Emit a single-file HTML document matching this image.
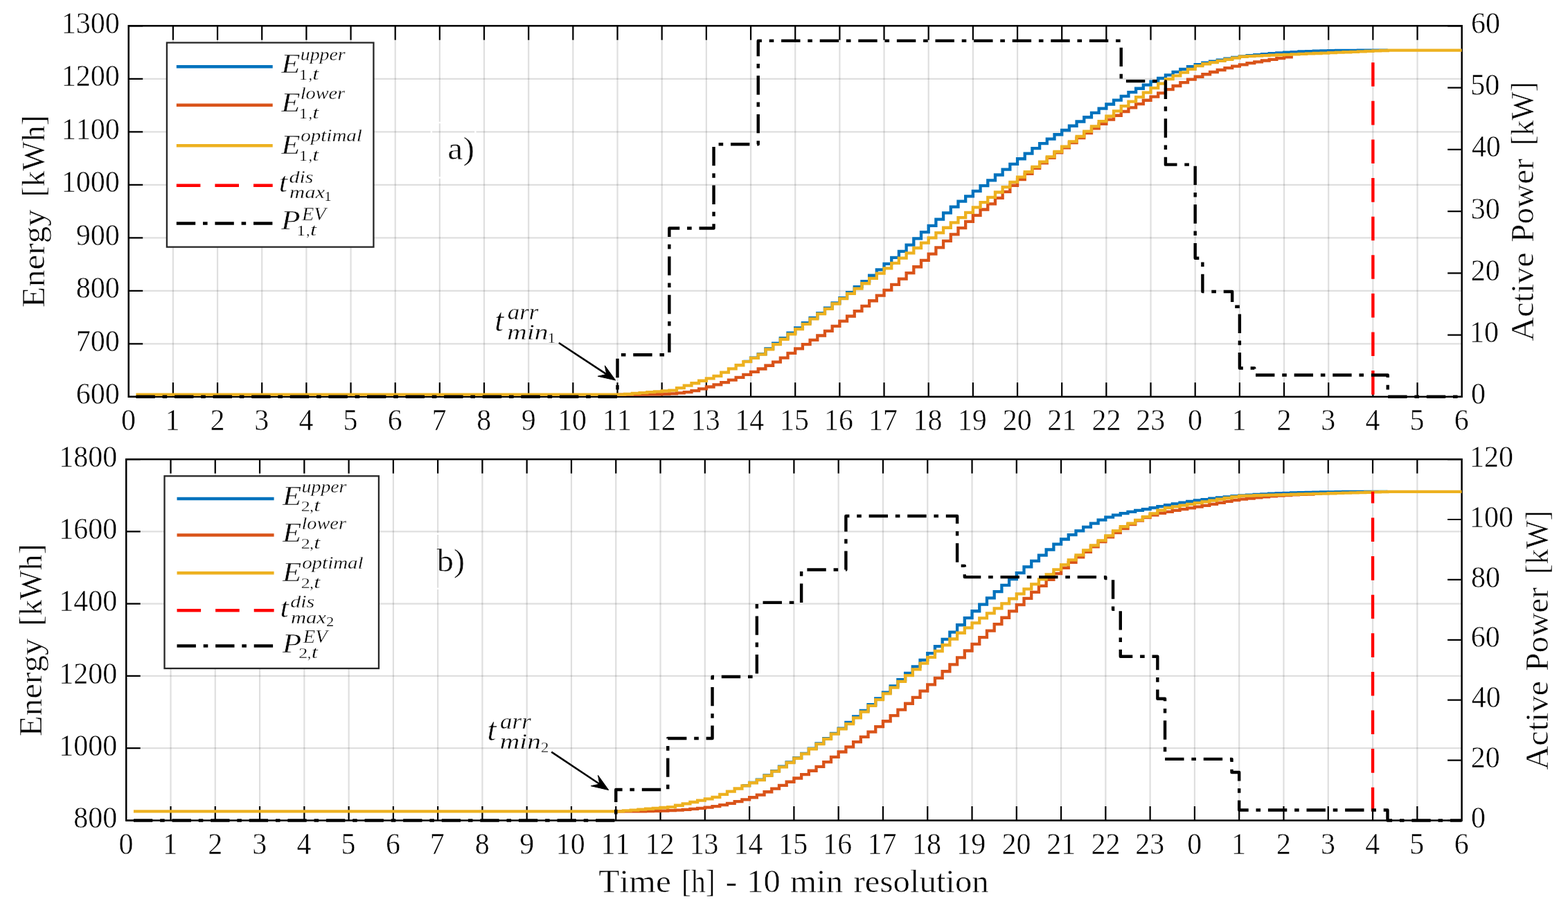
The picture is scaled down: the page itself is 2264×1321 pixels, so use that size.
<!DOCTYPE html>
<html><head><meta charset="utf-8"><title>Energy and active power</title><style>html,body{margin:0;padding:0;background:#fff;overflow:hidden}svg{display:block}text{white-space:pre}</style></head><body>
<svg width="2264" height="1321" viewBox="0 0 2264 1321" font-family="'Liberation Serif', serif" style="font-kerning:none">
<rect width="2264" height="1321" fill="#fff"/>
<path d="M249.87,37.30V572.80" stroke="#262626" stroke-opacity="0.15" stroke-width="2.2" fill="none"/>
<path d="M314.03,37.30V572.80" stroke="#262626" stroke-opacity="0.15" stroke-width="2.2" fill="none"/>
<path d="M378.20,37.30V572.80" stroke="#262626" stroke-opacity="0.15" stroke-width="2.2" fill="none"/>
<path d="M442.37,37.30V572.80" stroke="#262626" stroke-opacity="0.15" stroke-width="2.2" fill="none"/>
<path d="M506.53,37.30V572.80" stroke="#262626" stroke-opacity="0.15" stroke-width="2.2" fill="none"/>
<path d="M570.70,37.30V572.80" stroke="#262626" stroke-opacity="0.15" stroke-width="2.2" fill="none"/>
<path d="M634.87,37.30V572.80" stroke="#262626" stroke-opacity="0.15" stroke-width="2.2" fill="none"/>
<path d="M699.03,37.30V572.80" stroke="#262626" stroke-opacity="0.15" stroke-width="2.2" fill="none"/>
<path d="M763.20,37.30V572.80" stroke="#262626" stroke-opacity="0.15" stroke-width="2.2" fill="none"/>
<path d="M827.37,37.30V572.80" stroke="#262626" stroke-opacity="0.15" stroke-width="2.2" fill="none"/>
<path d="M891.53,37.30V572.80" stroke="#262626" stroke-opacity="0.15" stroke-width="2.2" fill="none"/>
<path d="M955.70,37.30V572.80" stroke="#262626" stroke-opacity="0.15" stroke-width="2.2" fill="none"/>
<path d="M1019.87,37.30V572.80" stroke="#262626" stroke-opacity="0.15" stroke-width="2.2" fill="none"/>
<path d="M1084.03,37.30V572.80" stroke="#262626" stroke-opacity="0.15" stroke-width="2.2" fill="none"/>
<path d="M1148.20,37.30V572.80" stroke="#262626" stroke-opacity="0.15" stroke-width="2.2" fill="none"/>
<path d="M1212.37,37.30V572.80" stroke="#262626" stroke-opacity="0.15" stroke-width="2.2" fill="none"/>
<path d="M1276.53,37.30V572.80" stroke="#262626" stroke-opacity="0.15" stroke-width="2.2" fill="none"/>
<path d="M1340.70,37.30V572.80" stroke="#262626" stroke-opacity="0.15" stroke-width="2.2" fill="none"/>
<path d="M1404.87,37.30V572.80" stroke="#262626" stroke-opacity="0.15" stroke-width="2.2" fill="none"/>
<path d="M1469.03,37.30V572.80" stroke="#262626" stroke-opacity="0.15" stroke-width="2.2" fill="none"/>
<path d="M1533.20,37.30V572.80" stroke="#262626" stroke-opacity="0.15" stroke-width="2.2" fill="none"/>
<path d="M1597.37,37.30V572.80" stroke="#262626" stroke-opacity="0.15" stroke-width="2.2" fill="none"/>
<path d="M1661.53,37.30V572.80" stroke="#262626" stroke-opacity="0.15" stroke-width="2.2" fill="none"/>
<path d="M1725.70,37.30V572.80" stroke="#262626" stroke-opacity="0.15" stroke-width="2.2" fill="none"/>
<path d="M1789.87,37.30V572.80" stroke="#262626" stroke-opacity="0.15" stroke-width="2.2" fill="none"/>
<path d="M1854.03,37.30V572.80" stroke="#262626" stroke-opacity="0.15" stroke-width="2.2" fill="none"/>
<path d="M1918.20,37.30V572.80" stroke="#262626" stroke-opacity="0.15" stroke-width="2.2" fill="none"/>
<path d="M1982.37,37.30V572.80" stroke="#262626" stroke-opacity="0.15" stroke-width="2.2" fill="none"/>
<path d="M2046.53,37.30V572.80" stroke="#262626" stroke-opacity="0.15" stroke-width="2.2" fill="none"/>
<path d="M185.70,496.30H2110.70" stroke="#262626" stroke-opacity="0.15" stroke-width="2.2" fill="none"/>
<path d="M185.70,419.80H2110.70" stroke="#262626" stroke-opacity="0.15" stroke-width="2.2" fill="none"/>
<path d="M185.70,343.30H2110.70" stroke="#262626" stroke-opacity="0.15" stroke-width="2.2" fill="none"/>
<path d="M185.70,266.80H2110.70" stroke="#262626" stroke-opacity="0.15" stroke-width="2.2" fill="none"/>
<path d="M185.70,190.30H2110.70" stroke="#262626" stroke-opacity="0.15" stroke-width="2.2" fill="none"/>
<path d="M185.70,113.80H2110.70" stroke="#262626" stroke-opacity="0.15" stroke-width="2.2" fill="none"/>
<path d="M249.87,572.80v-20.5M249.87,37.30v20.5M314.03,572.80v-20.5M314.03,37.30v20.5M378.20,572.80v-20.5M378.20,37.30v20.5M442.37,572.80v-20.5M442.37,37.30v20.5M506.53,572.80v-20.5M506.53,37.30v20.5M570.70,572.80v-20.5M570.70,37.30v20.5M634.87,572.80v-20.5M634.87,37.30v20.5M699.03,572.80v-20.5M699.03,37.30v20.5M763.20,572.80v-20.5M763.20,37.30v20.5M827.37,572.80v-20.5M827.37,37.30v20.5M891.53,572.80v-20.5M891.53,37.30v20.5M955.70,572.80v-20.5M955.70,37.30v20.5M1019.87,572.80v-20.5M1019.87,37.30v20.5M1084.03,572.80v-20.5M1084.03,37.30v20.5M1148.20,572.80v-20.5M1148.20,37.30v20.5M1212.37,572.80v-20.5M1212.37,37.30v20.5M1276.53,572.80v-20.5M1276.53,37.30v20.5M1340.70,572.80v-20.5M1340.70,37.30v20.5M1404.87,572.80v-20.5M1404.87,37.30v20.5M1469.03,572.80v-20.5M1469.03,37.30v20.5M1533.20,572.80v-20.5M1533.20,37.30v20.5M1597.37,572.80v-20.5M1597.37,37.30v20.5M1661.53,572.80v-20.5M1661.53,37.30v20.5M1725.70,572.80v-20.5M1725.70,37.30v20.5M1789.87,572.80v-20.5M1789.87,37.30v20.5M1854.03,572.80v-20.5M1854.03,37.30v20.5M1918.20,572.80v-20.5M1918.20,37.30v20.5M1982.37,572.80v-20.5M1982.37,37.30v20.5M2046.53,572.80v-20.5M2046.53,37.30v20.5M185.70,572.80h20.5M185.70,496.30h20.5M185.70,419.80h20.5M185.70,343.30h20.5M185.70,266.80h20.5M185.70,190.30h20.5M185.70,113.80h20.5M185.70,37.30h20.5M2110.70,572.80h-20.5M2110.70,483.55h-20.5M2110.70,394.30h-20.5M2110.70,305.05h-20.5M2110.70,215.80h-20.5M2110.70,126.55h-20.5M2110.70,37.30h-20.5" stroke="#000" stroke-width="2.2" fill="none"/>
<rect x="185.70" y="37.30" width="1925.00" height="535.50" stroke="#000" stroke-width="2.5" fill="none"/>
<path d="M1073.34,521.86H1084.03V516.58H1094.73V511.06H1105.42V503.41H1116.12V495.77H1126.81V488.12H1137.51V480.72H1148.20V473.38H1158.89V466.03H1169.59V459.02H1180.28V452.08H1190.98V444.71H1201.67V437.34H1212.37V430.13H1223.06V422.14H1233.76V414.15H1244.45V406.03H1255.14V397.77H1265.84V389.38H1276.53V380.78H1287.23V371.93H1297.92V362.87H1308.62V353.67H1319.31V344.40H1330.01V335.13H1340.70V325.93H1351.39V316.61H1362.09V307.29H1372.78V298.55H1383.48V290.70H1394.17V283.34H1404.87V275.90H1415.56V268.18H1426.26V260.36H1436.95V252.49H1447.64V244.64H1458.34V236.87H1469.03V229.24H1479.73V221.67H1490.42V214.22H1501.12V207.13H1511.81V200.54H1522.51V194.25H1533.20V188.00H1543.89V181.73H1554.59V175.50H1565.28V169.26H1575.98V162.93H1586.67V156.60H1597.37V150.52H1608.06V144.66H1618.76V138.87H1629.45V133.22H1640.14V127.76H1650.84V122.57H1661.53V117.70H1672.23V113.01H1682.92V108.39H1693.62V103.97H1704.31V99.87H1715.01V96.22H1725.70V93.14H1736.39V90.67H1747.09V88.58H1757.78V86.64H1768.48V84.74H1779.17V82.96H1789.87V81.44H1800.56V80.20H1811.26V79.13H1821.95V78.15H1832.64V77.20H1843.34V76.33H1854.03V75.63H1864.73V75.06H1875.42V74.52H1886.12V74.04H1896.81V73.63H1907.51V73.31H1918.20V73.10H1928.89V72.97H1939.59V72.87H1950.28V72.79H1960.98V72.72H1971.67V72.65H1982.37V72.57H1993.06H2003.76" stroke="#0072BD" stroke-width="4.3" fill="none" stroke-linejoin="miter"/>
<path d="M891.53,569.66H902.23H912.92H923.62H934.31V569.47H945.01V569.27H955.70V568.97H966.39V568.37H977.09V567.36H987.78V566.07H998.48V564.13H1009.17V561.44H1019.87V558.49H1030.56V555.45H1041.26V552.15H1051.95V548.61H1062.64V544.87H1073.34V540.94H1084.03V536.84H1094.73V532.50H1105.42V527.75H1116.12V522.54H1126.81V516.54H1137.51V509.92H1148.20V503.34H1158.89V497.11H1169.59V490.92H1180.28V484.52H1190.98V477.79H1201.67V470.83H1212.37V463.71H1223.06V456.50H1233.76V449.19H1244.45V441.78H1255.14V434.26H1265.84V426.60H1276.53V418.81H1287.23V410.85H1297.92V402.66H1308.62V394.17H1319.31V385.23H1330.01V375.95H1340.70V366.63H1351.39V357.31H1362.09V347.88H1372.78V338.42H1383.48V329.04H1394.17V319.85H1404.87V310.94H1415.56V302.49H1426.26V294.31H1436.95V285.92H1447.64V276.95H1458.34V267.76H1469.03V259.00H1479.73V250.83H1490.42V242.93H1501.12V235.26H1511.81V227.78H1522.51V220.46H1533.20V213.25H1543.89V206.12H1554.59V199.07H1565.28V192.16H1575.98V185.43H1586.67V178.93H1597.37V172.70H1608.06V166.75H1618.76V161.00H1629.45V155.44H1640.14V150.04H1650.84V144.76H1661.53V139.58H1672.23V134.38H1682.92V129.15H1693.62V124.02H1704.31V119.15H1715.01V114.68H1725.70V110.74H1736.39V107.24H1747.09V103.99H1757.78V100.98H1768.48V98.20H1779.17V95.64H1789.87V93.30H1800.56V91.18H1811.26V89.28H1821.95V87.51H1832.64V85.82H1843.34V84.12H1854.03V82.36H1864.73V78.35" stroke="#D95319" stroke-width="4.3" fill="none" stroke-linejoin="miter"/>
<path d="M196.39,569.66H207.09H217.78H228.48H239.17H249.87H260.56H271.26H281.95H292.64H303.34H314.03H324.73H335.42H346.12H356.81H367.51H378.20H388.89H399.59H410.28H420.98H431.67H442.37H453.06H463.76H474.45H485.14H495.84H506.53H517.23H527.92H538.62H549.31H560.01H570.70H581.39H592.09H602.78H613.48H624.17H634.87H645.56H656.26H666.95H677.64H688.34H699.03H709.73H720.42H731.12H741.81H752.51H763.20H773.89H784.59H795.28H805.98H816.67H827.37H838.06H848.76H859.45H870.14H880.84H891.53H902.23V568.80H912.92V567.94H923.62V567.08H934.31V566.22H945.01V565.36H955.70V564.49H966.39V563.63H977.09V560.17H987.78V556.70H998.48V553.24H1009.17V549.77H1019.87V546.31H1030.56V542.84H1041.26V537.65H1051.95V532.46H1062.64V527.27H1073.34V522.08H1084.03V516.89H1094.73V511.69H1105.42V504.38H1116.12V497.06H1126.81V489.74H1137.51V482.42H1148.20V475.10H1158.89V467.79H1169.59V460.47H1180.28V453.15H1190.98V445.83H1201.67V438.52H1212.37V431.20H1223.06V423.88H1233.76V416.56H1244.45V409.24H1255.14V401.93H1265.84V394.61H1276.53V387.29H1287.23V379.97H1297.92V372.65H1308.62V365.34H1319.31V358.02H1330.01V350.70H1340.70V343.38H1351.39V336.06H1362.09V328.75H1372.78V321.43H1383.48V314.11H1394.17V306.79H1404.87V299.47H1415.56V292.16H1426.26V284.84H1436.95V277.52H1447.64V270.20H1458.34V262.88H1469.03V255.57H1479.73V248.25H1490.42V240.93H1501.12V233.61H1511.81V226.30H1522.51V218.98H1533.20V211.66H1543.89V204.34H1554.59V197.02H1565.28V189.71H1575.98V182.39H1586.67V175.07H1597.37V167.75H1608.06V160.43H1618.76V153.12H1629.45V146.63H1640.14V140.14H1650.84V133.65H1661.53V127.16H1672.23V120.67H1682.92V114.18H1693.62V109.41H1704.31V104.64H1715.01V99.86H1725.70V95.09H1736.39V92.24H1747.09V90.08H1757.78V87.92H1768.48V85.76H1779.17V83.60H1789.87V81.75H1800.56V81.16H1811.26V80.57H1821.95V80.13H1832.64V79.68H1843.34V79.24H1854.03V78.79H1864.73V78.35H1875.42V77.90H1886.12V77.46H1896.81V77.01H1907.51V76.57H1918.20V76.13H1928.89V75.68H1939.59V75.24H1950.28V74.79H1960.98V74.35H1971.67V73.90H1982.37V73.46H1993.06V73.01H2003.76V72.57H2014.45H2025.14H2035.84H2046.53H2057.23H2067.92H2078.62H2089.31H2100.01H2110.70" stroke="#EDB120" stroke-width="4.3" fill="none" stroke-linejoin="miter"/>
<path d="M1982.37,569.66V72.57" stroke="#FF0000" stroke-width="4.3999999999999995" stroke-dasharray="34.6 21.0" fill="none"/>
<path d="M196.39,572.80H207.09H217.78H228.48H239.17H249.87H260.56H271.26H281.95H292.64H303.34H314.03H324.73H335.42H346.12H356.81H367.51H378.20H388.89H399.59H410.28H420.98H431.67H442.37H453.06H463.76H474.45H485.14H495.84H506.53H517.23H527.92H538.62H549.31H560.01H570.70H581.39H592.09H602.78H613.48H624.17H634.87H645.56H656.26H666.95H677.64H688.34H699.03H709.73H720.42H731.12H741.81H752.51H763.20H773.89H784.59H795.28H805.98H816.67H827.37H838.06H848.76H859.45H870.14H880.84H891.53V512.29H902.23H912.92H923.62H934.31H945.01H955.70H966.39V329.50H977.09H987.78H998.48H1009.17H1019.87H1030.56V208.21H1041.26H1051.95H1062.64H1073.34H1084.03H1094.73V58.90H1105.42H1116.12H1126.81H1137.51H1148.20H1158.89H1169.59H1180.28H1190.98H1201.67H1212.37H1223.06H1233.76H1244.45H1255.14H1265.84H1276.53H1287.23H1297.92H1308.62H1319.31H1330.01H1340.70H1351.39H1362.09H1372.78H1383.48H1394.17H1404.87H1415.56H1426.26H1436.95H1447.64H1458.34H1469.03H1479.73H1490.42H1501.12H1511.81H1522.51H1533.20H1543.89H1554.59H1565.28H1575.98H1586.67H1597.37H1608.06H1618.76V117.09H1629.45H1640.14H1650.84H1661.53H1672.23H1682.92V237.67H1693.62H1704.31H1715.01H1725.70V372.70H1736.39V421.07H1747.09H1757.78H1768.48H1779.17V442.76H1789.87V531.57H1800.56H1811.26V541.56H1821.95H1832.64H1843.34H1854.03H1864.73H1875.42H1886.12H1896.81H1907.51H1918.20H1928.89H1939.59H1950.28H1960.98H1971.67H1982.37H1993.06H2003.76V572.80H2014.45H2025.14H2035.84H2046.53H2057.23H2067.92H2078.62H2089.31H2100.01H2110.70" stroke="#000" stroke-width="4.3999999999999995" fill="none" stroke-linejoin="round" stroke-dasharray="27.4 10.8 6.6 10.8"/>
<text transform="translate(175.01,621.40) scale(0.9650,1)" font-size="43.5" fill="#000" stroke="#fff" stroke-width="0.50">0</text>
<text transform="translate(238.59,621.40) scale(0.9650,1)" font-size="43.5" fill="#000" stroke="#fff" stroke-width="0.50">1</text>
<text transform="translate(303.57,621.40) scale(0.9650,1)" font-size="43.5" fill="#000" stroke="#fff" stroke-width="0.50">2</text>
<text transform="translate(367.32,621.40) scale(0.9650,1)" font-size="43.5" fill="#000" stroke="#fff" stroke-width="0.50">3</text>
<text transform="translate(431.59,621.40) scale(0.9650,1)" font-size="43.5" fill="#000" stroke="#fff" stroke-width="0.50">4</text>
<text transform="translate(495.44,621.40) scale(0.9650,1)" font-size="43.5" fill="#000" stroke="#fff" stroke-width="0.50">5</text>
<text transform="translate(559.73,621.40) scale(0.9650,1)" font-size="43.5" fill="#000" stroke="#fff" stroke-width="0.50">6</text>
<text transform="translate(623.39,621.40) scale(0.9650,1)" font-size="43.5" fill="#000" stroke="#fff" stroke-width="0.50">7</text>
<text transform="translate(688.34,621.40) scale(0.9650,1)" font-size="43.5" fill="#000" stroke="#fff" stroke-width="0.50">8</text>
<text transform="translate(752.69,621.40) scale(0.9650,1)" font-size="43.5" fill="#000" stroke="#fff" stroke-width="0.50">9</text>
<text transform="translate(805.13,621.40) scale(0.9650,1)" font-size="43.5" fill="#000" stroke="#fff" stroke-width="0.50">10</text>
<text transform="translate(869.76,621.40) scale(0.9650,1)" font-size="43.5" fill="#000" stroke="#fff" stroke-width="0.50">11</text>
<text transform="translate(933.82,621.40) scale(0.9650,1)" font-size="43.5" fill="#000" stroke="#fff" stroke-width="0.50">12</text>
<text transform="translate(997.65,621.40) scale(0.9650,1)" font-size="43.5" fill="#000" stroke="#fff" stroke-width="0.50">13</text>
<text transform="translate(1061.33,621.40) scale(0.9650,1)" font-size="43.5" fill="#000" stroke="#fff" stroke-width="0.50">14</text>
<text transform="translate(1125.99,621.40) scale(0.9650,1)" font-size="43.5" fill="#000" stroke="#fff" stroke-width="0.50">15</text>
<text transform="translate(1189.96,621.40) scale(0.9650,1)" font-size="43.5" fill="#000" stroke="#fff" stroke-width="0.50">16</text>
<text transform="translate(1254.10,621.40) scale(0.9650,1)" font-size="43.5" fill="#000" stroke="#fff" stroke-width="0.50">17</text>
<text transform="translate(1318.47,621.40) scale(0.9650,1)" font-size="43.5" fill="#000" stroke="#fff" stroke-width="0.50">18</text>
<text transform="translate(1382.69,621.40) scale(0.9650,1)" font-size="43.5" fill="#000" stroke="#fff" stroke-width="0.50">19</text>
<text transform="translate(1447.72,621.40) scale(0.9650,1)" font-size="43.5" fill="#000" stroke="#fff" stroke-width="0.50">20</text>
<text transform="translate(1512.35,621.40) scale(0.9650,1)" font-size="43.5" fill="#000" stroke="#fff" stroke-width="0.50">21</text>
<text transform="translate(1576.41,621.40) scale(0.9650,1)" font-size="43.5" fill="#000" stroke="#fff" stroke-width="0.50">22</text>
<text transform="translate(1640.24,621.40) scale(0.9650,1)" font-size="43.5" fill="#000" stroke="#fff" stroke-width="0.50">23</text>
<text transform="translate(1715.01,621.40) scale(0.9650,1)" font-size="43.5" fill="#000" stroke="#fff" stroke-width="0.50">0</text>
<text transform="translate(1778.59,621.40) scale(0.9650,1)" font-size="43.5" fill="#000" stroke="#fff" stroke-width="0.50">1</text>
<text transform="translate(1843.57,621.40) scale(0.9650,1)" font-size="43.5" fill="#000" stroke="#fff" stroke-width="0.50">2</text>
<text transform="translate(1907.32,621.40) scale(0.9650,1)" font-size="43.5" fill="#000" stroke="#fff" stroke-width="0.50">3</text>
<text transform="translate(1971.59,621.40) scale(0.9650,1)" font-size="43.5" fill="#000" stroke="#fff" stroke-width="0.50">4</text>
<text transform="translate(2035.44,621.40) scale(0.9650,1)" font-size="43.5" fill="#000" stroke="#fff" stroke-width="0.50">5</text>
<text transform="translate(2099.73,621.40) scale(0.9650,1)" font-size="43.5" fill="#000" stroke="#fff" stroke-width="0.50">6</text>
<text transform="translate(109.73,583.40) scale(0.9650,1)" font-size="43.5" fill="#000" stroke="#fff" stroke-width="0.50">600</text>
<text transform="translate(109.73,506.90) scale(0.9650,1)" font-size="43.5" fill="#000" stroke="#fff" stroke-width="0.50">700</text>
<text transform="translate(109.73,430.40) scale(0.9650,1)" font-size="43.5" fill="#000" stroke="#fff" stroke-width="0.50">800</text>
<text transform="translate(109.73,353.90) scale(0.9650,1)" font-size="43.5" fill="#000" stroke="#fff" stroke-width="0.50">900</text>
<text transform="translate(88.74,277.40) scale(0.9650,1)" font-size="43.5" fill="#000" stroke="#fff" stroke-width="0.50">1000</text>
<text transform="translate(88.74,200.90) scale(0.9650,1)" font-size="43.5" fill="#000" stroke="#fff" stroke-width="0.50">1100</text>
<text transform="translate(88.74,124.40) scale(0.9650,1)" font-size="43.5" fill="#000" stroke="#fff" stroke-width="0.50">1200</text>
<text transform="translate(88.74,47.90) scale(0.9650,1)" font-size="43.5" fill="#000" stroke="#fff" stroke-width="0.50">1300</text>
<text transform="translate(2124.10,583.40) scale(0.9650,1)" font-size="43.5" fill="#000" stroke="#fff" stroke-width="0.50">0</text>
<text transform="translate(2122.01,494.15) scale(0.9650,1)" font-size="43.5" fill="#000" stroke="#fff" stroke-width="0.50">10</text>
<text transform="translate(2123.86,404.90) scale(0.9650,1)" font-size="43.5" fill="#000" stroke="#fff" stroke-width="0.50">20</text>
<text transform="translate(2123.69,315.65) scale(0.9650,1)" font-size="43.5" fill="#000" stroke="#fff" stroke-width="0.50">30</text>
<text transform="translate(2124.88,226.40) scale(0.9650,1)" font-size="43.5" fill="#000" stroke="#fff" stroke-width="0.50">40</text>
<text transform="translate(2123.26,137.15) scale(0.9650,1)" font-size="43.5" fill="#000" stroke="#fff" stroke-width="0.50">50</text>
<text transform="translate(2123.90,47.90) scale(0.9650,1)" font-size="43.5" fill="#000" stroke="#fff" stroke-width="0.50">60</text>
<path d="M246.48,663.10V1184.50" stroke="#262626" stroke-opacity="0.15" stroke-width="2.2" fill="none"/>
<path d="M310.76,663.10V1184.50" stroke="#262626" stroke-opacity="0.15" stroke-width="2.2" fill="none"/>
<path d="M375.04,663.10V1184.50" stroke="#262626" stroke-opacity="0.15" stroke-width="2.2" fill="none"/>
<path d="M439.32,663.10V1184.50" stroke="#262626" stroke-opacity="0.15" stroke-width="2.2" fill="none"/>
<path d="M503.60,663.10V1184.50" stroke="#262626" stroke-opacity="0.15" stroke-width="2.2" fill="none"/>
<path d="M567.88,663.10V1184.50" stroke="#262626" stroke-opacity="0.15" stroke-width="2.2" fill="none"/>
<path d="M632.16,663.10V1184.50" stroke="#262626" stroke-opacity="0.15" stroke-width="2.2" fill="none"/>
<path d="M696.44,663.10V1184.50" stroke="#262626" stroke-opacity="0.15" stroke-width="2.2" fill="none"/>
<path d="M760.72,663.10V1184.50" stroke="#262626" stroke-opacity="0.15" stroke-width="2.2" fill="none"/>
<path d="M825.00,663.10V1184.50" stroke="#262626" stroke-opacity="0.15" stroke-width="2.2" fill="none"/>
<path d="M889.28,663.10V1184.50" stroke="#262626" stroke-opacity="0.15" stroke-width="2.2" fill="none"/>
<path d="M953.56,663.10V1184.50" stroke="#262626" stroke-opacity="0.15" stroke-width="2.2" fill="none"/>
<path d="M1017.84,663.10V1184.50" stroke="#262626" stroke-opacity="0.15" stroke-width="2.2" fill="none"/>
<path d="M1082.12,663.10V1184.50" stroke="#262626" stroke-opacity="0.15" stroke-width="2.2" fill="none"/>
<path d="M1146.40,663.10V1184.50" stroke="#262626" stroke-opacity="0.15" stroke-width="2.2" fill="none"/>
<path d="M1210.68,663.10V1184.50" stroke="#262626" stroke-opacity="0.15" stroke-width="2.2" fill="none"/>
<path d="M1274.96,663.10V1184.50" stroke="#262626" stroke-opacity="0.15" stroke-width="2.2" fill="none"/>
<path d="M1339.24,663.10V1184.50" stroke="#262626" stroke-opacity="0.15" stroke-width="2.2" fill="none"/>
<path d="M1403.52,663.10V1184.50" stroke="#262626" stroke-opacity="0.15" stroke-width="2.2" fill="none"/>
<path d="M1467.80,663.10V1184.50" stroke="#262626" stroke-opacity="0.15" stroke-width="2.2" fill="none"/>
<path d="M1532.08,663.10V1184.50" stroke="#262626" stroke-opacity="0.15" stroke-width="2.2" fill="none"/>
<path d="M1596.36,663.10V1184.50" stroke="#262626" stroke-opacity="0.15" stroke-width="2.2" fill="none"/>
<path d="M1660.64,663.10V1184.50" stroke="#262626" stroke-opacity="0.15" stroke-width="2.2" fill="none"/>
<path d="M1724.92,663.10V1184.50" stroke="#262626" stroke-opacity="0.15" stroke-width="2.2" fill="none"/>
<path d="M1789.20,663.10V1184.50" stroke="#262626" stroke-opacity="0.15" stroke-width="2.2" fill="none"/>
<path d="M1853.48,663.10V1184.50" stroke="#262626" stroke-opacity="0.15" stroke-width="2.2" fill="none"/>
<path d="M1917.76,663.10V1184.50" stroke="#262626" stroke-opacity="0.15" stroke-width="2.2" fill="none"/>
<path d="M1982.04,663.10V1184.50" stroke="#262626" stroke-opacity="0.15" stroke-width="2.2" fill="none"/>
<path d="M2046.32,663.10V1184.50" stroke="#262626" stroke-opacity="0.15" stroke-width="2.2" fill="none"/>
<path d="M182.20,1080.22H2110.60" stroke="#262626" stroke-opacity="0.15" stroke-width="2.2" fill="none"/>
<path d="M182.20,975.94H2110.60" stroke="#262626" stroke-opacity="0.15" stroke-width="2.2" fill="none"/>
<path d="M182.20,871.66H2110.60" stroke="#262626" stroke-opacity="0.15" stroke-width="2.2" fill="none"/>
<path d="M182.20,767.38H2110.60" stroke="#262626" stroke-opacity="0.15" stroke-width="2.2" fill="none"/>
<path d="M246.48,1184.50v-20.5M246.48,663.10v20.5M310.76,1184.50v-20.5M310.76,663.10v20.5M375.04,1184.50v-20.5M375.04,663.10v20.5M439.32,1184.50v-20.5M439.32,663.10v20.5M503.60,1184.50v-20.5M503.60,663.10v20.5M567.88,1184.50v-20.5M567.88,663.10v20.5M632.16,1184.50v-20.5M632.16,663.10v20.5M696.44,1184.50v-20.5M696.44,663.10v20.5M760.72,1184.50v-20.5M760.72,663.10v20.5M825.00,1184.50v-20.5M825.00,663.10v20.5M889.28,1184.50v-20.5M889.28,663.10v20.5M953.56,1184.50v-20.5M953.56,663.10v20.5M1017.84,1184.50v-20.5M1017.84,663.10v20.5M1082.12,1184.50v-20.5M1082.12,663.10v20.5M1146.40,1184.50v-20.5M1146.40,663.10v20.5M1210.68,1184.50v-20.5M1210.68,663.10v20.5M1274.96,1184.50v-20.5M1274.96,663.10v20.5M1339.24,1184.50v-20.5M1339.24,663.10v20.5M1403.52,1184.50v-20.5M1403.52,663.10v20.5M1467.80,1184.50v-20.5M1467.80,663.10v20.5M1532.08,1184.50v-20.5M1532.08,663.10v20.5M1596.36,1184.50v-20.5M1596.36,663.10v20.5M1660.64,1184.50v-20.5M1660.64,663.10v20.5M1724.92,1184.50v-20.5M1724.92,663.10v20.5M1789.20,1184.50v-20.5M1789.20,663.10v20.5M1853.48,1184.50v-20.5M1853.48,663.10v20.5M1917.76,1184.50v-20.5M1917.76,663.10v20.5M1982.04,1184.50v-20.5M1982.04,663.10v20.5M2046.32,1184.50v-20.5M2046.32,663.10v20.5M182.20,1184.50h20.5M182.20,1080.22h20.5M182.20,975.94h20.5M182.20,871.66h20.5M182.20,767.38h20.5M182.20,663.10h20.5M2110.60,1184.50h-20.5M2110.60,1097.60h-20.5M2110.60,1010.70h-20.5M2110.60,923.80h-20.5M2110.60,836.90h-20.5M2110.60,750.00h-20.5M2110.60,663.10h-20.5" stroke="#000" stroke-width="2.2" fill="none"/>
<rect x="182.20" y="663.10" width="1928.40" height="521.40" stroke="#000" stroke-width="2.5" fill="none"/>
<path d="M1071.41,1134.17H1082.12V1129.95H1092.83V1125.74H1103.55V1119.38H1114.26V1113.03H1124.97V1106.73H1135.69V1100.42H1146.40V1094.11H1157.11V1087.81H1167.83V1080.56H1178.54V1073.30H1189.25V1066.05H1199.97V1058.80H1210.68V1051.54H1221.39V1042.93H1232.11V1034.37H1242.82V1025.82H1253.53V1017.21H1264.25V1008.47H1274.96V999.56H1285.67V990.47H1296.39V981.24H1307.10V971.88H1317.81V962.40H1328.53V952.80H1339.24V943.09H1349.95V933.14H1360.67V922.92H1371.38V912.58H1382.09V902.25H1392.81V892.09H1403.52V882.24H1414.23V872.69H1424.95V863.29H1435.66V854.05H1446.37V844.95H1457.09V835.98H1467.80V827.13H1478.51V818.41H1489.23V809.89H1499.94V801.64H1510.65V793.52H1521.37V785.64H1532.08V778.49H1542.79V772.16H1553.51V766.37H1564.22V760.97H1574.93V755.60H1585.65V750.55H1596.36V746.58H1607.07V743.64H1617.79V741.14H1628.50V738.95H1639.21V736.96H1649.93V735.05H1660.64V733.12H1671.35V731.16H1682.07V729.24H1692.78V727.38H1703.49V725.63H1714.21V723.99H1724.92V722.49H1735.63V721.09H1746.35V719.74H1757.06V718.47H1767.77V717.30H1778.49V716.27H1789.20V715.40H1799.91V714.64H1810.63V713.94H1821.34V713.30H1832.05V712.74H1842.77V712.26H1853.48V711.85H1864.19V711.51H1874.91V711.20H1885.62V710.93H1896.33V710.69H1907.05V710.47H1917.76V710.29H1928.47V710.13H1939.19V710.00H1949.90V709.87H1960.61H1971.33H1982.04H1992.75H2003.47" stroke="#0072BD" stroke-width="4.3" fill="none" stroke-linejoin="miter"/>
<path d="M889.28,1171.31H899.99H910.71H921.42H932.13V1171.11H942.85V1170.90H953.56V1170.63H964.27V1170.20H974.99V1169.59H985.70V1168.81H996.41V1167.87H1007.13V1166.81H1017.84V1165.63H1028.55V1164.14H1039.27V1162.19H1049.98V1159.86H1060.69V1157.22H1071.41V1154.32H1082.12V1151.23H1092.83V1147.58H1103.55V1143.23H1114.26V1138.62H1124.97V1133.83H1135.69V1128.74H1146.40V1123.50H1157.11V1118.22H1167.83V1112.77H1178.54V1106.86H1189.25V1100.16H1199.97V1092.86H1210.68V1085.49H1221.39V1078.30H1232.11V1071.16H1242.82V1063.97H1253.53V1056.65H1264.25V1049.12H1274.96V1041.27H1285.67V1033.07H1296.39V1024.55H1307.10V1015.77H1317.81V1006.78H1328.53V997.64H1339.24V988.40H1349.95V978.96H1360.67V969.24H1371.38V959.35H1382.09V949.41H1392.81V939.52H1403.52V929.80H1414.23V920.21H1424.95V910.67H1435.66V901.19H1446.37V891.76H1457.09V882.40H1467.80V873.12H1478.51V863.92H1489.23V854.82H1499.94V845.85H1510.65V836.95H1521.37V828.18H1532.08V819.78H1542.79V811.86H1553.51V804.26H1564.22V796.84H1574.93V789.39H1585.65V782.12H1596.36V775.46H1607.07V769.21H1617.79V762.99H1628.50V757.07H1639.21V751.68H1649.93V747.08H1660.64V743.50H1671.35V740.89H1682.07V738.80H1692.78V736.88H1703.49V735.06H1714.21V733.37H1724.92V731.66H1735.63V729.79H1746.35V727.80H1757.06V725.80H1767.77V723.88H1778.49V722.15H1789.20V720.71H1799.91V719.51H1810.63V718.39H1821.34V717.37H1832.05V716.46H1842.77V715.66H1853.48V714.98H1864.19V714.41H1874.91V713.93H1885.62V713.49H1896.33V713.07" stroke="#D95319" stroke-width="4.3" fill="none" stroke-linejoin="miter"/>
<path d="M192.91,1171.31H203.63H214.34H225.05H235.77H246.48H257.19H267.91H278.62H289.33H300.05H310.76H321.47H332.19H342.90H353.61H364.33H375.04H385.75H396.47H407.18H417.89H428.61H439.32H450.03H460.75H471.46H482.17H492.89H503.60H514.31H525.03H535.74H546.45H557.17H567.88H578.59H589.31H600.02H610.73H621.45H632.16H642.87H653.59H664.30H675.01H685.73H696.44H707.15H717.87H728.58H739.29H750.01H760.72H771.43H782.15H792.86H803.57H814.29H825.00H835.71H846.43H857.14H867.85H878.57H889.28H899.99V1170.42H910.71V1169.53H921.42V1168.65H932.13V1167.76H942.85V1166.87H953.56V1165.99H964.27V1165.10H974.99V1162.74H985.70V1160.37H996.41V1158.01H1007.13V1155.65H1017.84V1153.29H1028.55V1150.92H1039.27V1146.79H1049.98V1142.65H1060.69V1138.51H1071.41V1134.37H1082.12V1130.24H1092.83V1126.10H1103.55V1119.83H1114.26V1113.56H1124.97V1107.28H1135.69V1101.01H1146.40V1094.74H1157.11V1088.47H1167.83V1081.25H1178.54V1074.03H1189.25V1066.82H1199.97V1059.60H1210.68V1052.39H1221.39V1045.17H1232.11V1036.41H1242.82V1027.64H1253.53V1018.88H1264.25V1010.12H1274.96V1001.36H1285.67V992.59H1296.39V983.83H1307.10V975.07H1317.81V966.30H1328.53V957.54H1339.24V948.78H1349.95V940.02H1360.67V931.25H1371.38V922.49H1382.09V913.73H1392.81V906.40H1403.52V899.39H1414.23V892.39H1424.95V885.38H1435.66V878.38H1446.37V871.37H1457.09V864.36H1467.80V857.36H1478.51V850.35H1489.23V843.35H1499.94V836.34H1510.65V829.33H1521.37V822.33H1532.08V815.32H1542.79V808.32H1553.51V801.31H1564.22V794.31H1574.93V787.30H1585.65V780.29H1596.36V773.29H1607.07V766.32H1617.79V760.25H1628.50V755.53H1639.21V750.81H1649.93V746.09H1660.64V741.36H1671.35V736.64H1682.07V733.14H1692.78V731.37H1703.49V729.60H1714.21V727.84H1724.92V726.07H1735.63V724.30H1746.35V722.54H1757.06V720.77H1767.77V719.00H1778.49V717.23H1789.20V715.85H1799.91V715.55H1810.63V715.25H1821.34V714.95H1832.05V714.65H1842.77V714.35H1853.48V714.05H1864.19V713.75H1874.91V713.46H1885.62V713.16H1896.33V712.86H1907.05V712.56H1917.76V712.26H1928.47V711.96H1939.19V711.66H1949.90V711.36H1960.61V711.07H1971.33V710.77H1982.04V710.47H1992.75V710.17H2003.47V709.87H2014.18H2024.89H2035.61H2046.32H2057.03H2067.75H2078.46H2089.17H2099.89H2110.60" stroke="#EDB120" stroke-width="4.3" fill="none" stroke-linejoin="miter"/>
<path d="M1982.04,1171.31V709.87" stroke="#FF0000" stroke-width="4.3999999999999995" stroke-dasharray="34.6 21.0" fill="none"/>
<path d="M192.91,1184.50H203.63H214.34H225.05H235.77H246.48H257.19H267.91H278.62H289.33H300.05H310.76H321.47H332.19H342.90H353.61H364.33H375.04H385.75H396.47H407.18H417.89H428.61H439.32H450.03H460.75H471.46H482.17H492.89H503.60H514.31H525.03H535.74H546.45H557.17H567.88H578.59H589.31H600.02H610.73H621.45H632.16H642.87H653.59H664.30H675.01H685.73H696.44H707.15H717.87H728.58H739.29H750.01H760.72H771.43H782.15H792.86H803.57H814.29H825.00H835.71H846.43H857.14H867.85H878.57H889.28V1140.01H899.99H910.71H921.42H932.13H942.85H953.56H964.27V1066.01H974.99H985.70H996.41H1007.13H1017.84H1028.55V976.98H1039.27H1049.98H1060.69H1071.41H1082.12H1092.83V869.92H1103.55H1114.26H1124.97H1135.69H1146.40H1157.11V822.56H1167.83H1178.54H1189.25H1199.97H1210.68H1221.39V745.00H1232.11H1242.82H1253.53H1264.25H1274.96H1285.67H1296.39H1307.10H1317.81H1328.53H1339.24H1349.95H1360.67H1371.38H1382.09V816.91H1392.81V833.12H1403.52H1414.23H1424.95H1435.66H1446.37H1457.09H1467.80H1478.51H1489.23H1499.94H1510.65H1521.37H1532.08H1542.79H1553.51H1564.22H1574.93H1585.65H1596.36V835.16H1607.07V879.92H1617.79V947.70H1628.50H1639.21H1649.93H1660.64H1671.35V1008.74H1682.07V1095.86H1692.78H1703.49H1714.21H1724.92H1735.63H1746.35H1757.06H1767.77H1778.49V1114.98H1789.20V1169.51H1799.91H1810.63H1821.34H1832.05H1842.77H1853.48H1864.19H1874.91H1885.62H1896.33H1907.05H1917.76H1928.47H1939.19H1949.90H1960.61H1971.33H1982.04H1992.75H2003.47V1184.50H2014.18H2024.89H2035.61H2046.32H2057.03H2067.75H2078.46H2089.17H2099.89H2110.60" stroke="#000" stroke-width="4.3999999999999995" fill="none" stroke-linejoin="round" stroke-dasharray="27.4 10.8 6.6 10.8"/>
<text transform="translate(171.51,1233.10) scale(0.9650,1)" font-size="43.5" fill="#000" stroke="#fff" stroke-width="0.50">0</text>
<text transform="translate(235.20,1233.10) scale(0.9650,1)" font-size="43.5" fill="#000" stroke="#fff" stroke-width="0.50">1</text>
<text transform="translate(300.30,1233.10) scale(0.9650,1)" font-size="43.5" fill="#000" stroke="#fff" stroke-width="0.50">2</text>
<text transform="translate(364.16,1233.10) scale(0.9650,1)" font-size="43.5" fill="#000" stroke="#fff" stroke-width="0.50">3</text>
<text transform="translate(428.54,1233.10) scale(0.9650,1)" font-size="43.5" fill="#000" stroke="#fff" stroke-width="0.50">4</text>
<text transform="translate(492.51,1233.10) scale(0.9650,1)" font-size="43.5" fill="#000" stroke="#fff" stroke-width="0.50">5</text>
<text transform="translate(556.91,1233.10) scale(0.9650,1)" font-size="43.5" fill="#000" stroke="#fff" stroke-width="0.50">6</text>
<text transform="translate(620.69,1233.10) scale(0.9650,1)" font-size="43.5" fill="#000" stroke="#fff" stroke-width="0.50">7</text>
<text transform="translate(685.75,1233.10) scale(0.9650,1)" font-size="43.5" fill="#000" stroke="#fff" stroke-width="0.50">8</text>
<text transform="translate(750.21,1233.10) scale(0.9650,1)" font-size="43.5" fill="#000" stroke="#fff" stroke-width="0.50">9</text>
<text transform="translate(802.77,1233.10) scale(0.9650,1)" font-size="43.5" fill="#000" stroke="#fff" stroke-width="0.50">10</text>
<text transform="translate(867.51,1233.10) scale(0.9650,1)" font-size="43.5" fill="#000" stroke="#fff" stroke-width="0.50">11</text>
<text transform="translate(931.68,1233.10) scale(0.9650,1)" font-size="43.5" fill="#000" stroke="#fff" stroke-width="0.50">12</text>
<text transform="translate(995.63,1233.10) scale(0.9650,1)" font-size="43.5" fill="#000" stroke="#fff" stroke-width="0.50">13</text>
<text transform="translate(1059.41,1233.10) scale(0.9650,1)" font-size="43.5" fill="#000" stroke="#fff" stroke-width="0.50">14</text>
<text transform="translate(1124.19,1233.10) scale(0.9650,1)" font-size="43.5" fill="#000" stroke="#fff" stroke-width="0.50">15</text>
<text transform="translate(1188.27,1233.10) scale(0.9650,1)" font-size="43.5" fill="#000" stroke="#fff" stroke-width="0.50">16</text>
<text transform="translate(1252.53,1233.10) scale(0.9650,1)" font-size="43.5" fill="#000" stroke="#fff" stroke-width="0.50">17</text>
<text transform="translate(1317.01,1233.10) scale(0.9650,1)" font-size="43.5" fill="#000" stroke="#fff" stroke-width="0.50">18</text>
<text transform="translate(1381.35,1233.10) scale(0.9650,1)" font-size="43.5" fill="#000" stroke="#fff" stroke-width="0.50">19</text>
<text transform="translate(1446.49,1233.10) scale(0.9650,1)" font-size="43.5" fill="#000" stroke="#fff" stroke-width="0.50">20</text>
<text transform="translate(1511.23,1233.10) scale(0.9650,1)" font-size="43.5" fill="#000" stroke="#fff" stroke-width="0.50">21</text>
<text transform="translate(1575.41,1233.10) scale(0.9650,1)" font-size="43.5" fill="#000" stroke="#fff" stroke-width="0.50">22</text>
<text transform="translate(1639.35,1233.10) scale(0.9650,1)" font-size="43.5" fill="#000" stroke="#fff" stroke-width="0.50">23</text>
<text transform="translate(1714.23,1233.10) scale(0.9650,1)" font-size="43.5" fill="#000" stroke="#fff" stroke-width="0.50">0</text>
<text transform="translate(1777.92,1233.10) scale(0.9650,1)" font-size="43.5" fill="#000" stroke="#fff" stroke-width="0.50">1</text>
<text transform="translate(1843.02,1233.10) scale(0.9650,1)" font-size="43.5" fill="#000" stroke="#fff" stroke-width="0.50">2</text>
<text transform="translate(1906.88,1233.10) scale(0.9650,1)" font-size="43.5" fill="#000" stroke="#fff" stroke-width="0.50">3</text>
<text transform="translate(1971.26,1233.10) scale(0.9650,1)" font-size="43.5" fill="#000" stroke="#fff" stroke-width="0.50">4</text>
<text transform="translate(2035.23,1233.10) scale(0.9650,1)" font-size="43.5" fill="#000" stroke="#fff" stroke-width="0.50">5</text>
<text transform="translate(2099.63,1233.10) scale(0.9650,1)" font-size="43.5" fill="#000" stroke="#fff" stroke-width="0.50">6</text>
<text transform="translate(106.23,1195.10) scale(0.9650,1)" font-size="43.5" fill="#000" stroke="#fff" stroke-width="0.50">800</text>
<text transform="translate(85.24,1090.82) scale(0.9650,1)" font-size="43.5" fill="#000" stroke="#fff" stroke-width="0.50">1000</text>
<text transform="translate(85.24,986.54) scale(0.9650,1)" font-size="43.5" fill="#000" stroke="#fff" stroke-width="0.50">1200</text>
<text transform="translate(85.24,882.26) scale(0.9650,1)" font-size="43.5" fill="#000" stroke="#fff" stroke-width="0.50">1400</text>
<text transform="translate(85.24,777.98) scale(0.9650,1)" font-size="43.5" fill="#000" stroke="#fff" stroke-width="0.50">1600</text>
<text transform="translate(85.24,673.70) scale(0.9650,1)" font-size="43.5" fill="#000" stroke="#fff" stroke-width="0.50">1800</text>
<text transform="translate(2124.00,1195.10) scale(0.9650,1)" font-size="43.5" fill="#000" stroke="#fff" stroke-width="0.50">0</text>
<text transform="translate(2123.76,1108.20) scale(0.9650,1)" font-size="43.5" fill="#000" stroke="#fff" stroke-width="0.50">20</text>
<text transform="translate(2124.78,1021.30) scale(0.9650,1)" font-size="43.5" fill="#000" stroke="#fff" stroke-width="0.50">40</text>
<text transform="translate(2123.80,934.40) scale(0.9650,1)" font-size="43.5" fill="#000" stroke="#fff" stroke-width="0.50">60</text>
<text transform="translate(2124.00,847.50) scale(0.9650,1)" font-size="43.5" fill="#000" stroke="#fff" stroke-width="0.50">80</text>
<text transform="translate(2121.91,760.60) scale(0.9650,1)" font-size="43.5" fill="#000" stroke="#fff" stroke-width="0.50">100</text>
<text transform="translate(2121.91,673.70) scale(0.9650,1)" font-size="43.5" fill="#000" stroke="#fff" stroke-width="0.50">120</text>
<text transform="translate(63.60,444.01) rotate(-90) scale(1.0448,1)" font-size="47.0" fill="#000" stroke="#fff" stroke-width="0.54">Energy</text>
<text transform="translate(63.60,284.36) rotate(-90) scale(0.9621,1)" font-size="47.0" fill="#000" stroke="#fff" stroke-width="0.54">[kWh]</text>
<text transform="translate(59.60,1063.21) rotate(-90) scale(1.0448,1)" font-size="47.0" fill="#000" stroke="#fff" stroke-width="0.54">Energy</text>
<text transform="translate(59.60,903.56) rotate(-90) scale(0.9621,1)" font-size="47.0" fill="#000" stroke="#fff" stroke-width="0.54">[kWh]</text>
<text transform="translate(2213.60,492.57) rotate(-90) scale(1.0244,1)" font-size="47.0" fill="#000" stroke="#fff" stroke-width="0.54">Active</text>
<text transform="translate(2213.60,349.86) rotate(-90) scale(1.0057,1)" font-size="47.0" fill="#000" stroke="#fff" stroke-width="0.54">Power</text>
<text transform="translate(2213.60,210.04) rotate(-90) scale(0.9285,1)" font-size="47.0" fill="#000" stroke="#fff" stroke-width="0.54">[kW]</text>
<text transform="translate(2234.90,1111.47) rotate(-90) scale(1.0244,1)" font-size="47.0" fill="#000" stroke="#fff" stroke-width="0.54">Active</text>
<text transform="translate(2234.90,968.76) rotate(-90) scale(1.0057,1)" font-size="47.0" fill="#000" stroke="#fff" stroke-width="0.54">Power</text>
<text transform="translate(2234.90,828.94) rotate(-90) scale(0.9285,1)" font-size="47.0" fill="#000" stroke="#fff" stroke-width="0.54">[kW]</text>
<text transform="translate(864.30,1288.10) scale(1.0547,1)" font-size="47.0" fill="#000" stroke="#fff" stroke-width="0.54">Time</text>
<text transform="translate(984.01,1288.10) scale(0.8865,1)" font-size="47.0" fill="#000" stroke="#fff" stroke-width="0.54">[h]</text>
<text transform="translate(1047.51,1288.10) scale(1.0812,1)" font-size="47.0" fill="#000" stroke="#fff" stroke-width="0.54">-</text>
<text transform="translate(1078.24,1288.10) scale(1.0322,1)" font-size="47.0" fill="#000" stroke="#fff" stroke-width="0.54">10</text>
<text transform="translate(1141.07,1288.10) scale(1.0404,1)" font-size="47.0" fill="#000" stroke="#fff" stroke-width="0.54">min</text>
<text transform="translate(1232.62,1288.10) scale(1.0380,1)" font-size="47.0" fill="#000" stroke="#fff" stroke-width="0.54">resolution</text>
<text transform="translate(646.35,230.20) scale(1.0842,1)" font-size="46.0" fill="#000" stroke="#fff" stroke-width="0.53">a)</text>
<text transform="translate(630.70,824.90) scale(1.0524,1)" font-size="46.0" fill="#000" stroke="#fff" stroke-width="0.53">b)</text>
<rect x="240.9" y="61.6" width="298.5" height="295.0" fill="#fff" stroke="#262626" stroke-width="2.3"/>
<path d="M254.8,96.3H393.7" stroke="#0072BD" stroke-width="4.5" fill="none"/>
<path d="M254.8,151.8H393.7" stroke="#D95319" stroke-width="4.5" fill="none"/>
<path d="M254.8,210.2H393.7" stroke="#EDB120" stroke-width="4.5" fill="none"/>
<path d="M254.8,267.8H393.7" stroke="#FF0000" stroke-width="4.5" fill="none" stroke-dasharray="34.6 21.0"/>
<path d="M254.8,322.4H393.7" stroke="#000" stroke-width="4.5" fill="none" stroke-dasharray="27.4 10.8 6.6 10.8"/>
<text transform="translate(406.32,104.80) scale(1.1271,1)" font-size="39.5" font-style="italic" fill="#000" stroke="#fff" stroke-width="0.45">E</text>
<text transform="translate(433.82,87.00) scale(1.0683,1)" font-size="26.0" font-style="italic" fill="#000" stroke="#fff" stroke-width="0.30">upper</text>
<text transform="translate(431.85,114.60) scale(1.1104,1)" font-size="22.0" fill="#000" stroke="#fff" stroke-width="0.25">1</text>
<text transform="translate(445.63,114.60) scale(0.9156,1)" font-size="22.0" fill="#000" stroke="#fff" stroke-width="0.25">,</text>
<text transform="translate(451.36,114.60) scale(1.3076,1)" font-size="25.0" font-style="italic" fill="#000" stroke="#fff" stroke-width="0.29">t</text>
<text transform="translate(406.32,161.10) scale(1.1271,1)" font-size="39.5" font-style="italic" fill="#000" stroke="#fff" stroke-width="0.45">E</text>
<text transform="translate(433.69,143.30) scale(1.0878,1)" font-size="26.0" font-style="italic" fill="#000" stroke="#fff" stroke-width="0.30">lower</text>
<text transform="translate(431.85,170.90) scale(1.1104,1)" font-size="22.0" fill="#000" stroke="#fff" stroke-width="0.25">1</text>
<text transform="translate(445.63,170.90) scale(0.9156,1)" font-size="22.0" fill="#000" stroke="#fff" stroke-width="0.25">,</text>
<text transform="translate(451.36,170.90) scale(1.3076,1)" font-size="25.0" font-style="italic" fill="#000" stroke="#fff" stroke-width="0.29">t</text>
<text transform="translate(406.32,221.90) scale(1.1271,1)" font-size="39.5" font-style="italic" fill="#000" stroke="#fff" stroke-width="0.45">E</text>
<text transform="translate(434.34,203.50) scale(1.1139,1)" font-size="26.0" font-style="italic" fill="#000" stroke="#fff" stroke-width="0.30">optimal</text>
<text transform="translate(431.85,231.60) scale(1.1104,1)" font-size="22.0" fill="#000" stroke="#fff" stroke-width="0.25">1</text>
<text transform="translate(445.63,231.60) scale(0.9156,1)" font-size="22.0" fill="#000" stroke="#fff" stroke-width="0.25">,</text>
<text transform="translate(451.36,231.60) scale(1.3076,1)" font-size="25.0" font-style="italic" fill="#000" stroke="#fff" stroke-width="0.29">t</text>
<text transform="translate(402.63,277.40) scale(1.1367,1)" font-size="39.5" font-style="italic" fill="#000" stroke="#fff" stroke-width="0.45">t</text>
<text transform="translate(417.49,263.90) scale(1.1541,1)" font-size="26.0" font-style="italic" fill="#000" stroke="#fff" stroke-width="0.30">dis</text>
<text transform="translate(418.10,286.40) scale(1.1757,1)" font-size="26.0" font-style="italic" fill="#000" stroke="#fff" stroke-width="0.30">max</text>
<text transform="translate(468.45,290.40) scale(1.1046,1)" font-size="18.0" fill="#000" stroke="#fff" stroke-width="0.21">1</text>
<text transform="translate(406.04,331.40) scale(1.1398,1)" font-size="39.5" font-style="italic" fill="#000" stroke="#fff" stroke-width="0.45">P</text>
<text transform="translate(436.03,317.90) scale(1.0311,1)" font-size="27.5" font-style="italic" fill="#000" stroke="#fff" stroke-width="0.32">EV</text>
<text transform="translate(428.45,339.70) scale(1.1104,1)" font-size="22.0" fill="#000" stroke="#fff" stroke-width="0.25">1</text>
<text transform="translate(442.23,339.70) scale(0.9156,1)" font-size="22.0" fill="#000" stroke="#fff" stroke-width="0.25">,</text>
<text transform="translate(447.96,339.70) scale(1.3076,1)" font-size="25.0" font-style="italic" fill="#000" stroke="#fff" stroke-width="0.29">t</text>
<rect x="237.5" y="687.3" width="309.4" height="277.70000000000005" fill="#fff" stroke="#262626" stroke-width="2.3"/>
<path d="M255.5,720.1H395.6" stroke="#0072BD" stroke-width="4.5" fill="none"/>
<path d="M255.5,772.5H395.6" stroke="#D95319" stroke-width="4.5" fill="none"/>
<path d="M255.5,827.2H395.6" stroke="#EDB120" stroke-width="4.5" fill="none"/>
<path d="M255.5,881.3H395.6" stroke="#FF0000" stroke-width="4.5" fill="none" stroke-dasharray="34.6 21.0"/>
<path d="M255.5,932.5H395.6" stroke="#000" stroke-width="4.5" fill="none" stroke-dasharray="27.4 10.8 6.6 10.8"/>
<text transform="translate(408.12,728.60) scale(1.1271,1)" font-size="39.5" font-style="italic" fill="#000" stroke="#fff" stroke-width="0.45">E</text>
<text transform="translate(435.62,710.80) scale(1.0683,1)" font-size="26.0" font-style="italic" fill="#000" stroke="#fff" stroke-width="0.30">upper</text>
<text transform="translate(434.66,738.40) scale(1.1792,1)" font-size="22.0" fill="#000" stroke="#fff" stroke-width="0.25">2</text>
<text transform="translate(447.43,738.40) scale(0.9156,1)" font-size="22.0" fill="#000" stroke="#fff" stroke-width="0.25">,</text>
<text transform="translate(453.16,738.40) scale(1.3076,1)" font-size="25.0" font-style="italic" fill="#000" stroke="#fff" stroke-width="0.29">t</text>
<text transform="translate(408.12,781.80) scale(1.1271,1)" font-size="39.5" font-style="italic" fill="#000" stroke="#fff" stroke-width="0.45">E</text>
<text transform="translate(435.49,764.00) scale(1.0878,1)" font-size="26.0" font-style="italic" fill="#000" stroke="#fff" stroke-width="0.30">lower</text>
<text transform="translate(434.66,791.60) scale(1.1792,1)" font-size="22.0" fill="#000" stroke="#fff" stroke-width="0.25">2</text>
<text transform="translate(447.43,791.60) scale(0.9156,1)" font-size="22.0" fill="#000" stroke="#fff" stroke-width="0.25">,</text>
<text transform="translate(453.16,791.60) scale(1.3076,1)" font-size="25.0" font-style="italic" fill="#000" stroke="#fff" stroke-width="0.29">t</text>
<text transform="translate(408.12,838.90) scale(1.1271,1)" font-size="39.5" font-style="italic" fill="#000" stroke="#fff" stroke-width="0.45">E</text>
<text transform="translate(436.14,820.50) scale(1.1139,1)" font-size="26.0" font-style="italic" fill="#000" stroke="#fff" stroke-width="0.30">optimal</text>
<text transform="translate(434.66,848.60) scale(1.1792,1)" font-size="22.0" fill="#000" stroke="#fff" stroke-width="0.25">2</text>
<text transform="translate(447.43,848.60) scale(0.9156,1)" font-size="22.0" fill="#000" stroke="#fff" stroke-width="0.25">,</text>
<text transform="translate(453.16,848.60) scale(1.3076,1)" font-size="25.0" font-style="italic" fill="#000" stroke="#fff" stroke-width="0.29">t</text>
<text transform="translate(404.43,890.90) scale(1.1367,1)" font-size="39.5" font-style="italic" fill="#000" stroke="#fff" stroke-width="0.45">t</text>
<text transform="translate(419.29,877.40) scale(1.1541,1)" font-size="26.0" font-style="italic" fill="#000" stroke="#fff" stroke-width="0.30">dis</text>
<text transform="translate(419.90,899.90) scale(1.1757,1)" font-size="26.0" font-style="italic" fill="#000" stroke="#fff" stroke-width="0.30">max</text>
<text transform="translate(471.01,903.90) scale(1.2473,1)" font-size="18.0" fill="#000" stroke="#fff" stroke-width="0.21">2</text>
<text transform="translate(407.84,941.50) scale(1.1398,1)" font-size="39.5" font-style="italic" fill="#000" stroke="#fff" stroke-width="0.45">P</text>
<text transform="translate(437.83,928.00) scale(1.0311,1)" font-size="27.5" font-style="italic" fill="#000" stroke="#fff" stroke-width="0.32">EV</text>
<text transform="translate(431.26,949.80) scale(1.1792,1)" font-size="22.0" fill="#000" stroke="#fff" stroke-width="0.25">2</text>
<text transform="translate(444.03,949.80) scale(0.9156,1)" font-size="22.0" fill="#000" stroke="#fff" stroke-width="0.25">,</text>
<text transform="translate(449.76,949.80) scale(1.3076,1)" font-size="25.0" font-style="italic" fill="#000" stroke="#fff" stroke-width="0.29">t</text>
<text transform="translate(714.19,478.10) scale(0.9972,1)" font-size="47.0" font-style="italic" fill="#000" stroke="#fff" stroke-width="0.54">t</text>
<text transform="translate(732.71,461.20) scale(1.1290,1)" font-size="31.0" font-style="italic" fill="#000" stroke="#fff" stroke-width="0.36">arr</text>
<text transform="translate(732.32,490.00) scale(1.2746,1)" font-size="31.0" font-style="italic" fill="#000" stroke="#fff" stroke-width="0.36">min</text>
<text transform="translate(790.78,495.30) scale(1.0437,1)" font-size="21.5" fill="#000" stroke="#fff" stroke-width="0.25">1</text>
<path d="M806.90,495.00L875.81,540.46" stroke="#000" stroke-width="2.6" fill="none"/>
<path d="M888.75,549.00L863.23,543.19L875.81,540.46L873.37,527.83Z" fill="#000" stroke="#000" stroke-width="1" stroke-linejoin="round"/>
<text transform="translate(703.54,1068.75) scale(0.9972,1)" font-size="47.0" font-style="italic" fill="#000" stroke="#fff" stroke-width="0.54">t</text>
<text transform="translate(722.06,1051.85) scale(1.1290,1)" font-size="31.0" font-style="italic" fill="#000" stroke="#fff" stroke-width="0.36">arr</text>
<text transform="translate(721.67,1080.65) scale(1.2746,1)" font-size="31.0" font-style="italic" fill="#000" stroke="#fff" stroke-width="0.36">min</text>
<text transform="translate(781.10,1085.95) scale(1.0558,1)" font-size="21.5" fill="#000" stroke="#fff" stroke-width="0.25">2</text>
<path d="M796.25,1085.60L865.85,1132.00" stroke="#000" stroke-width="2.6" fill="none"/>
<path d="M878.75,1140.60L853.26,1134.66L865.85,1132.00L863.47,1119.35Z" fill="#000" stroke="#000" stroke-width="1" stroke-linejoin="round"/>
<rect x="622.9" y="177.0" width="63.5" height="79.5" fill="none" stroke="#fff" stroke-width="2.4"/>
<rect x="605.5" y="770.8" width="66.9" height="79.0" fill="none" stroke="#fff" stroke-width="2.4"/>
</svg>
</body></html>
